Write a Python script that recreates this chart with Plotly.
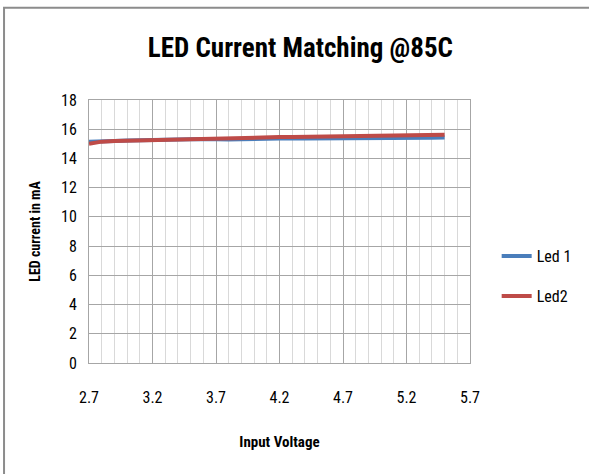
import plotly.graph_objects as go

voltage = [2.7, 2.8, 2.9, 3.0, 3.1, 3.2, 3.3, 3.4, 3.5, 3.6, 3.7, 3.8, 3.9, 4.0, 4.1,
           4.2, 4.3, 4.4, 4.5, 4.6, 4.7, 4.8, 4.9, 5.0, 5.1, 5.2, 5.3, 5.4, 5.5]
led1 = [15.15, 15.2, 15.2, 15.22, 15.25, 15.28, 15.3, 15.3, 15.32, 15.33, 15.3, 15.3,
        15.32, 15.35, 15.38, 15.4, 15.38, 15.36, 15.36, 15.36, 15.38, 15.4, 15.42,
        15.42, 15.42, 15.42, 15.42, 15.42, 15.43]
led2 = [15.0, 15.15, 15.2, 15.22, 15.25, 15.3, 15.32, 15.35, 15.38, 15.4, 15.42, 15.42,
        15.42, 15.44, 15.45, 15.46, 15.46, 15.47, 15.48, 15.5, 15.5, 15.52, 15.55,
        15.57, 15.58, 15.6, 15.6, 15.62, 15.63]
x_ticks = [2.7, 3.2, 3.7, 4.2, 4.7, 5.2, 5.7]
y_ticks = [0, 2, 4, 6, 8, 10, 12, 14, 16, 18]

FONT = "Liberation Sans Narrow, Roboto Condensed, Liberation Sans, sans-serif"

fig = go.Figure()
fig.add_trace(go.Scatter(x=voltage, y=led1, mode="lines", name="Led 1", legendgroup="a",
                         line=dict(color="#4a7ebb", width=4)))
fig.add_trace(go.Scatter(x=voltage, y=led2, mode="lines", name="Led2", legendgroup="b",
                         line=dict(color="#be4b48", width=4)))

fig.update_layout(
    width=589, height=474,
    margin=dict(l=89, r=116, t=100, b=111),
    paper_bgcolor="white", plot_bgcolor="white",
    font=dict(family=FONT, color="#000000", size=16),
    title=dict(text="<b>LED Current Matching @85C</b>", x=0.51, xanchor="center",
               y=0.9, yanchor="middle", font=dict(size=27, family=FONT)),
    showlegend=True,
    legend=dict(x=1.07, y=0.33, xanchor="left", yanchor="middle",
                font=dict(size=16, family=FONT), tracegroupgap=16,
                itemwidth=30, bgcolor="rgba(0,0,0,0)"),
    xaxis=dict(range=[2.7, 5.7], tickvals=x_ticks, ticktext=[str(v) for v in x_ticks],
               showgrid=True, gridcolor="#a6a6a6", gridwidth=1,
               minor=dict(dtick=0.1, tick0=2.7, showgrid=True, gridcolor="#d9d9d9", gridwidth=1),
               showline=True, linecolor="#a6a6a6", mirror=True, zeroline=False,
               ticks="", ticklabelstandoff=20,
               title=dict(text="<b>Input Voltage</b>", font=dict(size=15, family=FONT), standoff=30)),
    yaxis=dict(range=[0, 18], tickvals=y_ticks, showgrid=True, gridcolor="#a6a6a6",
               gridwidth=1, showline=True, linecolor="#a6a6a6", mirror=True, zeroline=False,
               ticks="", ticklabelstandoff=8,
               title=dict(text="<b>LED current in mA</b>", font=dict(size=14, family=FONT), standoff=17)),
)

fig.add_shape(type="rect", xref="paper", yref="paper", x0=-0.223, x1=1.4, y0=-0.6, y1=1.351,
              line=dict(color="#8c8c8c", width=2), fillcolor="rgba(0,0,0,0)", layer="above")

fig.write_html("out.html", config={"displayModeBar": False},
               post_script="document.body.style.margin='0';")
